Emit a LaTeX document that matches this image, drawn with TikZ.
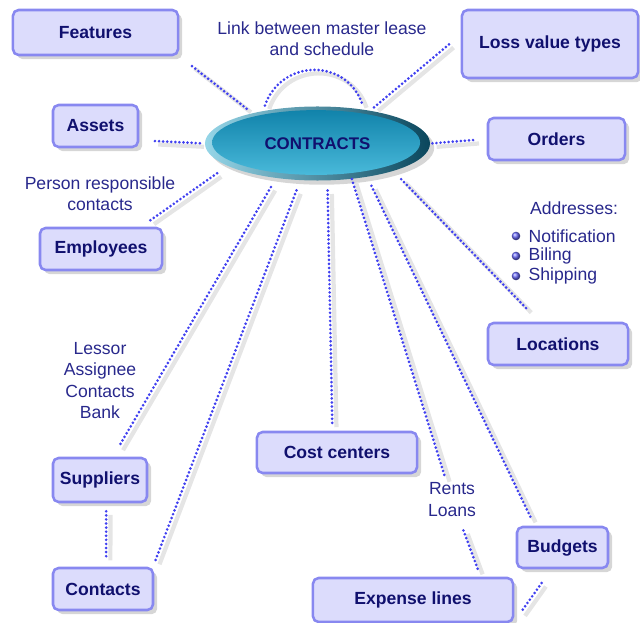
\documentclass[tikz,border=0pt]{standalone}
\usepackage{fontspec}
\setmainfont{Liberation Sans}
\usetikzlibrary{shapes.geometric,shadows}

\definecolor{boxfill}{RGB}{220,220,252}
\definecolor{boxline}{RGB}{136,136,240}
\definecolor{boxtext}{RGB}{16,16,110}
\definecolor{notetext}{RGB}{40,40,140}
\definecolor{dotblue}{RGB}{64,64,240}
\definecolor{rimlight}{RGB}{150,214,232}
\definecolor{rimdark}{RGB}{10,70,92}
\definecolor{coretop}{RGB}{14,128,168}
\definecolor{corebottom}{RGB}{78,190,222}

\tikzset{
    entity/.style={draw=boxline, fill=boxfill, line width=1.8pt, rounded corners=4pt,
        text=boxtext, font=\fontsize{12.5}{15}\selectfont\bfseries, inner sep=0pt,
        drop shadow={shadow xshift=3pt, shadow yshift=-3pt, fill=black!40, opacity=.4}},
    note/.style={text=notetext, font=\fontsize{12.5}{15}\selectfont, align=center, inner sep=1pt},
    link/.style={dotblue, line width=2.1pt, dash pattern=on 0pt off 2.9pt, line cap=round,
        preaction={draw=black!10, line width=3pt, solid, transform canvas={shift={(3pt,-2.5pt)}}}}
}

\begin{document}
\begin{tikzpicture}[x=0.025cm, y=-0.025cm]
            \useasboundingbox (0,0) rectangle (640,623);

            \node[ellipse, minimum width=5.625cm, minimum height=1.85cm, inner sep=0pt,
                left color=rimlight, right color=rimdark,
                drop shadow={shadow xshift=3pt, shadow yshift=-3pt, fill=black!40, opacity=.4},
                path picture={\shade[top color=coretop, bottom color=corebottom]
                    ([xshift=-1pt, yshift=0.7pt]path picture bounding box.center) ellipse [x radius=2.6cm, y radius=0.81cm];},
                text=boxtext, font=\fontsize{12}{14}\selectfont\bfseries] (contracts) at (317.5,143.5) {CONTRACTS};

            \node[entity, minimum width=4.125cm, minimum height=1.125cm] (features) at (95.5,32.5) {Features};
            \node[entity, minimum width=2.125cm, minimum height=1.05cm] (assets) at (95.5,126) {Assets};
            \node[entity, minimum width=3.05cm, minimum height=1.05cm] (employees) at (101,249) {Employees};
            \node[entity, minimum width=4.4cm, minimum height=1.7cm] (lossvalue) at (550,44) {Loss value types};
            \node[entity, minimum width=3.425cm, minimum height=1.05cm] (orders) at (556.5,139) {Orders};
            \node[entity, minimum width=3.5cm, minimum height=1.05cm] (locations) at (558,344) {Locations};
            \node[entity, minimum width=4cm, minimum height=1.025cm] (costcenters) at (337,452.5) {Cost centers};
            \node[entity, minimum width=2.35cm, minimum height=1.1cm] (suppliers) at (100,480) {Suppliers};
            \node[entity, minimum width=2.5cm, minimum height=1.05cm] (contacts) at (103,589) {Contacts};
            \node[entity, minimum width=2.275cm, minimum height=1.025cm] (budgets) at (562.5,547.5) {Budgets};
            \node[entity, minimum width=5cm, minimum height=1.1cm] (expenselines) at (413,600) {Expense lines};

            \node[note] (linknote) at (322,39) {Link between master lease\\and schedule};
            \node[note] (personnote) at (100,193.5) {Person responsible\\contacts};
            \node[note] (lessornote) at (100,380.5) {Lessor\\Assignee\\Contacts\\Bank};
            \node[note, inner sep=3pt] (rentsnote) at (452,499.5) {Rents\\Loans};
            \node[note] (addresses) at (574,208) {Addresses:};
            \foreach \name/\y in {Notification/236, Biling/256, Shipping/276} {
                \shade[ball color=dotblue!80] (516,\y) circle (4.3);
                \node[note, anchor=west] (addr-\name) at (527,\y) {\name};
            }

            \draw[link, shorten <=4pt, shorten >=4pt] (contracts.149) .. controls +(18,-52) and +(-18,-52) .. (contracts.36);
            \draw[link, shorten <=5pt, shorten >=10pt] (contracts.155) -- (features.south east);
            \draw[link, shorten <=3.5pt, shorten >=10.5pt] (contracts.west) -- (assets.-18);
            \draw[link, shorten <=9pt, shorten >=7.5pt] (contracts.194) -- (employees.29);
            \draw[link, shorten <=3.5pt, shorten >=10.5pt] (contracts.32) -- (lossvalue.174);
            \draw[link, shorten <=1.5pt, shorten >=8.5pt] (contracts.east) -- (orders.west);
            \draw[link, shorten <=8pt, shorten >=12.5pt] (contracts.-20) -- (locations.130);
            \draw[link, shorten <=7.3pt, shorten >=8.3pt] (contracts.220) -- (suppliers.61);
            \draw[link, shorten <=7.6pt, shorten >=4.5pt] (contracts.245) -- (contacts.24);
            \draw[link, shorten <=7pt, shorten >=5pt] (contracts.-75) -- (costcenters.102);
            \draw[link, shorten <=7.4pt, shorten >=4.5pt] (contracts.-46) -- (rentsnote) -- (expenselines.19);
            \draw[link, shorten <=7pt, shorten >=5.4pt] (contracts.-34) -- (budgets.142);
            \draw[link, shorten <=5.7pt, shorten >=7pt] (suppliers.-75) -- (contacts.82);
            \draw[link, shorten <=12pt, shorten >=8pt] (budgets.-117) -- (expenselines.-12);
        \end{tikzpicture}
\end{document}
